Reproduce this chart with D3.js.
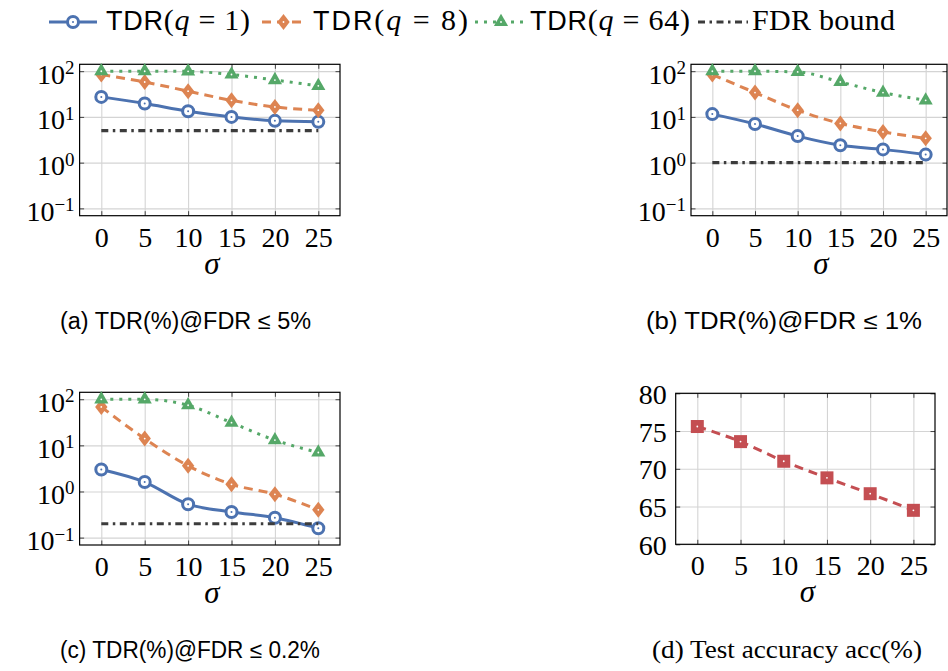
<!DOCTYPE html>
<html>
<head>
<meta charset="utf-8">
<script src="https://cdn.jsdelivr.net/npm/d3@7"></script>
<style>
  body { margin: 0; background: #fff; }
  svg { display: block; }
</style>
</head>
<body>
<svg id="fig" width="948" height="671"></svg>
<script>
// ---- data ----
const sigma = [0, 5, 10, 15, 20, 25];

// TDR(%) at FDR <= 5%
const tdr5_q1  = [27.4, 19.6, 13.3, 10.0, 8.2, 7.8];
const tdr5_q8  = [84.5, 58, 36.5, 23, 16.5, 14];
const tdr5_q64 = [99.5, 99.5, 99, 84.5, 64, 47.7];
const fdr5 = 5;

// TDR(%) at FDR <= 1%
const tdr1_q1  = [11.5, 7.0, 3.8, 2.4, 1.95, 1.5];
const tdr1_q8  = [84.5, 34, 14, 7.2, 4.7, 3.4];
const tdr1_q64 = [99.5, 99.5, 96, 58, 34, 23];
const fdr1 = 1;

// TDR(%) at FDR <= 0.2%
const tdr02_q1  = [3.0, 1.6, 0.53, 0.36, 0.27, 0.16];
const tdr02_q8  = [68, 14, 3.6, 1.43, 0.87, 0.4];
const tdr02_q64 = [99.5, 99.5, 74, 31, 13, 7.0];
const fdr02 = 0.2;

// Test accuracy acc(%)
const accuracy = [75.6, 73.6, 71.0, 68.8, 66.7, 64.5];

const logTicks = [0.1, 1, 10, 100];
const logExponents = ["\u22121", "0", "1", "2"];
const accTicks = [60, 65, 70, 75, 80];

const legendQ = ["1", "8", "64"];
const captionText = [
  "(a) TDR(%)@FDR \u2264 5%",
  "(b) TDR(%)@FDR \u2264 1%",
  "(c) TDR(%)@FDR \u2264 0.2%",
  "(d) Test accuracy acc(%)"
];

// ---- style ----
const SERIF = "'Liberation Serif', 'DejaVu Serif', serif";
const SANS = "'Liberation Sans', Arial, sans-serif";
const style = {
  q1:  { color: "#4C72B0", dash: null,       marker: "circle" },
  q8:  { color: "#DD8452", dash: "9,6",      marker: "diamond" },
  q64: { color: "#55A868", dash: "3,6",      marker: "triangle" },
  acc: { color: "#C44E52", dash: "9,6",      marker: "square" },
  fdr: { color: "#3c3c3c", dash: "7,4.5,2.5,4.5" }
};

const svg = d3.select("#fig");

function drawMarker(g, kind, color, cx, cy) {
  const m = g.append("g").attr("transform", `translate(${cx},${cy})`);
  if (kind === "circle") {
    m.append("circle").attr("r", 5.5).attr("fill", "#fff")
      .attr("stroke", color).attr("stroke-width", 3);
    m.append("circle").attr("r", 1).attr("fill", color);
  } else if (kind === "diamond") {
    m.append("path").attr("d", "M0,-8L6.2,0L0,8L-6.2,0Z").attr("fill", color);
    m.append("circle").attr("r", 0.9).attr("fill", "#fff");
  } else if (kind === "triangle") {
    m.append("path").attr("d", "M0,-8.2L7.1,4.1L-7.1,4.1Z").attr("fill", color);
    m.append("circle").attr("r", 0.9).attr("fill", "#fff");
  } else if (kind === "square") {
    m.append("rect").attr("x", -6.5).attr("y", -6.5).attr("width", 13).attr("height", 13).attr("fill", color);
    m.append("circle").attr("r", 0.9).attr("fill", "#fff");
  }
}

function drawPanel(cfg) {
  const g = svg.append("g");
  const x = d3.scaleLinear().domain([-2.5, 27.5]).range([cfg.left, cfg.right]);
  const y = cfg.log
    ? d3.scaleLog().domain([Math.pow(10, -1.16), Math.pow(10, 2.15)]).range([cfg.bottom, cfg.top])
    : d3.scaleLinear().domain([60, 80]).range([cfg.bottom, cfg.top]);
  const yTicks = cfg.log ? logTicks : accTicks;
  const h = cfg.bottom - cfg.top, w = cfg.right - cfg.left;

  // grid
  const gridX = g.append("g").attr("transform", `translate(0,${cfg.bottom})`)
    .call(d3.axisBottom(x).tickValues(sigma).tickSize(-h).tickFormat(""));
  const gridY = g.append("g").attr("transform", `translate(${cfg.left},0)`)
    .call(d3.axisLeft(y).tickValues(yTicks).tickSize(-w).tickFormat(""));
  [gridX, gridY].forEach(a => {
    a.select(".domain").remove();
    a.selectAll("line").attr("stroke", "#d4d4d4").attr("stroke-width", 1.1);
  });

  // inward tick marks on all four sides
  const tk = 4.5;
  const tickAxes = [
    g.append("g").attr("transform", `translate(0,${cfg.bottom})`).call(d3.axisBottom(x).tickValues(sigma).tickSize(-tk).tickFormat("")),
    g.append("g").attr("transform", `translate(0,${cfg.top})`).call(d3.axisTop(x).tickValues(sigma).tickSize(-tk).tickFormat("")),
    g.append("g").attr("transform", `translate(${cfg.left},0)`).call(d3.axisLeft(y).tickValues(yTicks).tickSize(-tk).tickFormat("")),
    g.append("g").attr("transform", `translate(${cfg.right},0)`).call(d3.axisRight(y).tickValues(yTicks).tickSize(-tk).tickFormat(""))
  ];
  tickAxes.forEach(a => {
    a.select(".domain").remove();
    a.selectAll("line").attr("stroke", "#444").attr("stroke-width", 1);
  });

  // frame
  g.append("rect").attr("x", cfg.left).attr("y", cfg.top).attr("width", w).attr("height", h)
    .attr("fill", "none").attr("stroke", "#000").attr("stroke-width", 1.2);

  // x tick labels
  const ax = g.append("g").attr("transform", `translate(0,${cfg.bottom})`)
    .call(d3.axisBottom(x).tickValues(sigma).tickSize(0).tickFormat(d3.format("d")));
  ax.select(".domain").remove();
  ax.selectAll("text").attr("y", 31).attr("dy", null)
    .attr("font-family", SERIF).attr("font-size", 28).attr("fill", "#000");

  // y tick labels
  const ay = g.append("g").attr("transform", `translate(${cfg.left},0)`)
    .call(d3.axisLeft(y).tickValues(yTicks).tickSize(0).tickFormat(cfg.log ? () => "" : d3.format("d")));
  ay.select(".domain").remove();
  ay.selectAll("text").attr("x", -cfg.labelGap).attr("dy", null)
    .attr("font-family", SERIF).attr("font-size", 28).attr("fill", "#000")
    .attr("y", cfg.log ? 12 : 10);
  if (cfg.log) {
    ay.selectAll("text").each(function(d) {
      const t = d3.select(this);
      t.text(null);
      t.append("tspan").text("10");
      t.append("tspan").attr("dy", -9.5).attr("font-size", 19).text(logExponents[logTicks.indexOf(d)]);
    });
  }

  // axis title
  g.append("text").attr("x", (cfg.left + cfg.right) / 2 + 2).attr("y", cfg.bottom + cfg.titleGap)
    .attr("text-anchor", "middle").attr("font-family", SERIF).attr("font-style", "italic")
    .attr("font-size", 31).text("\u03C3");

  // series
  const line = d3.line().x((d, i) => x(sigma[i])).y(d => y(d)).curve(d3.curveMonotoneX);
  cfg.series.forEach(s => {
    const st = style[s.key];
    g.append("path").datum(s.values).attr("d", line).attr("fill", "none")
      .attr("stroke", st.color).attr("stroke-width", 3)
      .attr("stroke-dasharray", st.dash);
    s.values.forEach((v, i) => drawMarker(g, st.marker, st.color, x(sigma[i]), y(v)));
  });

  if (cfg.bound !== undefined) {
    g.append("line")
      .attr("x1", x(sigma[0])).attr("x2", x(sigma[sigma.length - 1]))
      .attr("y1", y(cfg.bound)).attr("y2", y(cfg.bound))
      .attr("stroke", style.fdr.color).attr("stroke-width", 3.2)
      .attr("stroke-dasharray", style.fdr.dash);
  }

  // caption
  g.append("text").attr("x", cfg.cap[0]).attr("y", cfg.capY)
    .attr("font-family", cfg.capSerif ? SERIF : SANS).attr("font-size", cfg.capSerif ? 25 : 23)
    .attr("textLength", cfg.cap[1] - cfg.cap[0]).attr("lengthAdjust", "spacingAndGlyphs")
    .text(cfg.caption);
}

drawPanel({
  left: 79.6, right: 340, top: 64.3, bottom: 215.7, log: true, labelGap: 5, titleGap: 58,
  series: [
    { key: "q1", values: tdr5_q1 },
    { key: "q8", values: tdr5_q8 },
    { key: "q64", values: tdr5_q64 }
  ],
  bound: fdr5, caption: captionText[0], cap: [60, 311], capY: 329
});
drawPanel({
  left: 691, right: 947, top: 64.3, bottom: 215.7, log: true, labelGap: 5, titleGap: 58,
  series: [
    { key: "q1", values: tdr1_q1 },
    { key: "q8", values: tdr1_q8 },
    { key: "q64", values: tdr1_q64 }
  ],
  bound: fdr1, caption: captionText[1], cap: [646, 922], capY: 329
});
drawPanel({
  left: 79.6, right: 340, top: 392.3, bottom: 545, log: true, labelGap: 5, titleGap: 58,
  series: [
    { key: "q1", values: tdr02_q1 },
    { key: "q8", values: tdr02_q8 },
    { key: "q64", values: tdr02_q64 }
  ],
  bound: fdr02, caption: captionText[2], cap: [60, 320], capY: 658
});
drawPanel({
  left: 675.7, right: 935, top: 393.3, bottom: 544.3, log: false, labelGap: 9, titleGap: 58,
  series: [
    { key: "acc", values: accuracy }
  ],
  caption: captionText[3], cap: [652, 922], capY: 658, capSerif: true
});

// ---- legend ----
const legend = svg.append("g");
const legendItems = [
  { key: "q1",  line: [49, 97],   text: [106, 250] },
  { key: "q8",  line: [262, 305], text: [313, 468] },
  { key: "q64", line: [475, 527], text: [530, 690] },
  { key: "fdr", line: [698, 748], text: [752, 895] }
];
legendItems.forEach((it, i) => {
  const st = style[it.key];
  legend.append("line").attr("x1", it.line[0]).attr("x2", it.line[1])
    .attr("y1", 22).attr("y2", 22).attr("stroke", st.color).attr("stroke-width", 3)
    .attr("stroke-dasharray", st.dash);
  if (st.marker) drawMarker(legend, st.marker, st.color, (it.line[0] + it.line[1]) / 2, 22);
  const t = legend.append("text").attr("x", it.text[0]).attr("y", 30)
    .attr("font-size", 30).attr("font-family", SERIF)
    .attr("textLength", it.text[1] - it.text[0]).attr("lengthAdjust", "spacing");
  if (it.key === "fdr") {
    t.text("FDR bound");
  } else {
    t.append("tspan").attr("font-family", SANS).attr("font-size", 27).text("TDR");
    t.append("tspan").text("(");
    t.append("tspan").attr("font-style", "italic").text("q");
    t.append("tspan").text(" = ");
    t.append("tspan").text(legendQ[i]);
    t.append("tspan").text(")");
  }
});
</script>
</body>
</html>
